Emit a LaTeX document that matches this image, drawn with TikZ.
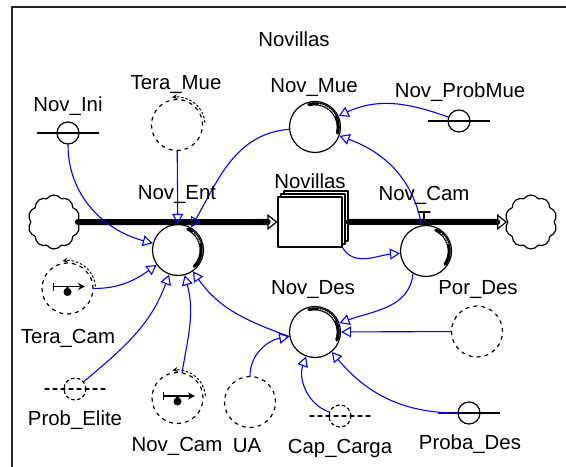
\documentclass[tikz,border=0pt]{standalone}
\usepackage{fontspec}
\setmainfont{Liberation Sans}
\usetikzlibrary{arrows.meta,shapes.symbols,shadows}

\begin{document}
\begin{tikzpicture}[line cap=round,line join=round,x=0.5pt,y=0.5pt,
  font=\fontsize{10.2pt}{12pt}\selectfont,
  conv/.style={circle,draw,line width=0.6pt,minimum size=25.5pt,inner sep=0pt},
  dconv/.style={conv,dash pattern=on 1.6pt off 2.4pt},
  sym/.style={circle,draw,line width=0.6pt,minimum size=11pt,inner sep=0pt},
  dsym/.style={sym,dash pattern=on 1.5pt off 1.5pt},
  stockbox/.style={rectangle,draw,fill=white,line width=0.6pt,minimum width=32pt,minimum height=25pt,
    double copy shadow={shadow xshift=1.5pt,shadow yshift=1.5pt,fill=white,draw,line width=0.6pt}},
  puff/.style={cloud,draw,cloud puffs=10,cloud puff arc=110,aspect=1,minimum width=26pt,minimum height=27pt,inner sep=0pt,line width=0.6pt},
  link/.style={blue,line width=0.55pt,-{Triangle[open,length=5pt,width=5.5pt]}},
  pipe/.style={line width=3pt,-{Triangle[open,length=5pt,width=8pt,line width=0.6pt]}},
  ghost/.style={dash pattern=on 1pt off 1.2pt,line width=0.5pt,-{Stealth[length=2.5pt,width=2.5pt]}}]
\clip (0,0) rectangle (566,466);
\draw[line width=0.8pt,black!85] (12,-5) -- (12,459) -- (571,459);
% stock, clouds and flows
\node[puff] (lcloud) at (54,244) {};
\node[puff] (rcloud) at (531,244) {};
\node[stockbox] (stock) at (310,244) {};
\node[conv] (nent) at (178,216) {};
\node[conv] (ncam) at (426,215) {};
\draw[pipe] (lcloud.east) -- (stock.west);
\draw[pipe] ([xshift=3pt]stock.east) -- (rcloud.west);
\draw[line width=0.6pt] (418,254) -- (430,254) (424,254) -- (424,244);
% converters
\node[conv] (nmue) at (315,339) {};
\node[conv] (ndes) at (315,134) {};
\node[dconv] (tmue) at (177,341) {};
\node[dconv] (tcam) at (67.5,177.5) {};
\node[dconv] (ncamg) at (177.5,68) {};
\node[dconv] (ua) at (250,64) {};
\node[dconv] (pdes) at (477,134.5) {};
\foreach \n/\a/\b/\c/\d in {nent/65/50/15/-45, nmue/105/80/30/-15, ncam/65/50/15/-35, ndes/105/80/30/-20} {
  \draw[line width=1.6pt] ([shift={(\a:11.6pt)}]\n.center) arc[start angle=\a,end angle=\d,radius=11.6pt];
  \draw[white,line width=0.5pt,dash pattern=on 0.5pt off 0.7pt] ([shift={(\b:11.6pt)}]\n.center) arc[start angle=\b,end angle=\c,radius=11.6pt];
}
\foreach \n in {tmue,tcam,ncamg}
  \draw[ghost] ([shift={(5:14pt)}]\n.center) arc[start angle=5,end angle=100,radius=14pt];
\foreach \n in {tcam,ncamg} {
  \draw[line width=0.7pt,{Bar[width=4pt]}-{Stealth[length=3.5pt,width=3.5pt]}] ([shift={(-14.5,2)}]\n.center) -- ([shift={(17.5,2)}]\n.center);
  \fill ([shift={(0,-3.5)}]\n.center) circle (4);
  \fill ([shift={(-3.5,-3.5)}]\n.center) -- ([shift={(0,3)}]\n.center) -- ([shift={(3.5,-3.5)}]\n.center) -- cycle;
}
% inputs
\node[sym] (nini) at (68,333) {};
\node[sym] (nprob) at (459,345) {};
\node[sym] (pbdes) at (469,53) {};
\node[dsym] (pelite) at (75,77) {};
\node[dsym] (ccarga) at (340,50) {};
\foreach \n in {nini,nprob,pbdes}
  \draw[line width=0.6pt] ([xshift=-15.3pt]\n.center) -- ([xshift=15.3pt]\n.center);
\foreach \n in {pelite,ccarga}
  \draw[line width=0.6pt,dash pattern=on 2pt off 2pt] ([xshift=-15pt]\n.center) -- ([xshift=15.5pt]\n.center);
% links
\draw[link] (nini) to[out=-90,in=165] (nent);
\draw[link] (tmue) -- (nent);
\draw[link] (nmue) to[out=185,in=60] (nent);
\draw[link] (nprob) to[out=160,in=25] (nmue);
\draw[link] (ncam) to[out=100,in=-20] (nmue);
\draw[link] (stock.south east) to[out=-60,in=185] (ncam);
\draw[link] (ncam.-120) to[out=-95,in=20] (ndes);
\draw[link] (pdes) -- (ndes);
\draw[link] (pbdes) to[out=180,in=-50] (ndes);
\draw[link] (ccarga) to[out=160,in=-110] (ndes);
\draw[link] (ua) to[out=90,in=190] (ndes);
\draw[link] (ndes.190) to[out=160,in=-55] (nent);
\draw[link] (ncamg) to[out=80,in=-75] (nent);
\draw[link] (pelite) to[out=40,in=-110] (nent);
\draw[link] (tcam) to[out=0,in=-145] (nent);
% labels
\node (tnov) at (294,427) {Novillas};
\node (tnini) at (68,360) {Nov\_Ini};
\node (ttmue) at (176,381) {Tera\_Mue};
\node (tnmue) at (314,378) {Nov\_Mue};
\node (tnprob) at (460,374) {Nov\_ProbMue};
\node (tnent) at (177,271) {Nov\_Ent};
\node (tstock) at (310,285) {Novillas};
\node (tncam) at (424,271) {Nov\_Cam};
\node (tndes) at (313,176) {Nov\_Des};
\node (tpdes) at (478,176) {Por\_Des};
\node (ttcam) at (68,128) {Tera\_Cam};
\node (tpelite) at (75,46) {Prob\_Elite};
\node (tncamg) at (177,20) {Nov\_Cam};
\node (tua) at (247,20) {UA};
\node (tccarga) at (340,18) {Cap\_Carga};
\node (tpbdes) at (470,22) {Proba\_Des};
\end{tikzpicture}
\end{document}
